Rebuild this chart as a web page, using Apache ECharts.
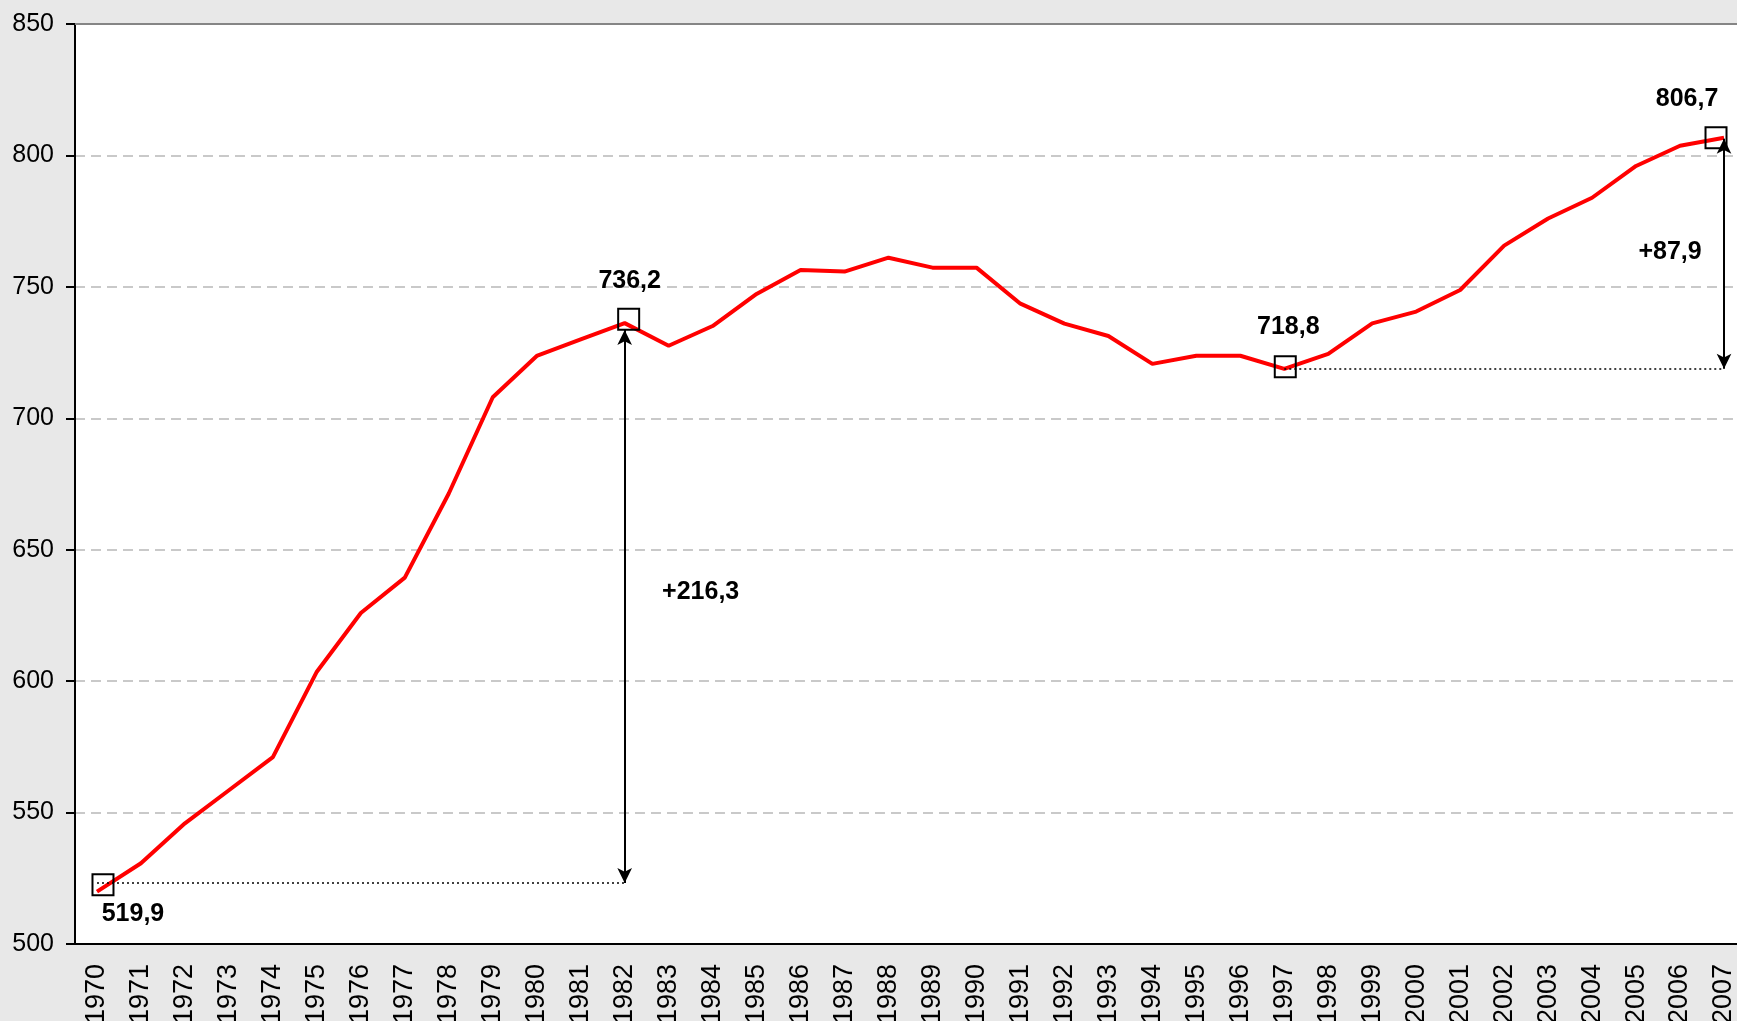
<!DOCTYPE html>
<html>
<head>
<meta charset="utf-8">
<script src="https://cdn.jsdelivr.net/npm/echarts@6/dist/echarts.min.js"></script>
<style>
  html, body { margin: 0; padding: 0; background: #e8e8e8; }
  #chart { width: 1737px; height: 1021px; }
</style>
</head>
<body>
<div id="chart"></div>
<script>
  // years on the x axis
  var years = ['1970', '1971', '1972', '1973', '1974', '1975', '1976', '1977', '1978', '1979',
    '1980', '1981', '1982', '1983', '1984', '1985', '1986', '1987', '1988', '1989',
    '1990', '1991', '1992', '1993', '1994', '1995', '1996', '1997', '1998', '1999',
    '2000', '2001', '2002', '2003', '2004', '2005', '2006', '2007'];

  // values
  var values = [519.9, 530.7, 545.9, 558.5, 571.1, 603.6, 625.9, 639.4, 671.4, 708.0,
    723.7, 730.0, 736.2, 727.6, 735.1, 747.3, 756.4, 755.8, 761.1, 757.3,
    757.3, 743.6, 736.0, 731.3, 720.7, 723.8, 723.8, 718.8, 724.5, 736.1,
    740.6, 748.8, 765.7, 776.0, 783.9, 796.0, 803.7, 806.7];

  // highlighted points
  var markYears = ['1970', '1982', '1997', '2007'];
  var markTexts = ['519,9', '736,2', '718,8', '806,7'];

  // differences: dotted guide from one year to another, then an arrow up
  var diffFrom = ['1970', '1997'];
  var diffTo = ['1982', '2007'];
  var diffBase = [523.2, 718.8];   // level of the dotted guide
  var diffTop = [733.6, 806.3];    // where the arrow tip stops
  var diffTexts = ['+216,3', '+87,9'];
  var diffTextYears = ['1983', '2006'];
  var diffTextValues = [633.9, 763.2];

  var yTicks = [500, 550, 600, 650, 700, 750, 800, 850];

  function valueOf(year) {
    return values[years.indexOf(year)];
  }

  var font = 'Liberation Sans, Arial, sans-serif';
  // squares sit a little off the line, like the original markers
  var markSymbolOffsets = [[6, -7], [4, -4], [1, -2], [-8, 0]];
  var markLabelOffsets = [[30, 29], [1, -38], [3, -40], [-29, -39]];
  var diffLabelOffsets = [[32, 0], [-10, 0]];

  var markData = markYears.map(function (y, i) {
    return {
      value: [y, valueOf(y)],
      symbolOffset: markSymbolOffsets[i],
      label: { formatter: markTexts[i], offset: markLabelOffsets[i] }
    };
  });

  var diffData = diffTexts.map(function (t, i) {
    return {
      value: [diffTextYears[i], diffTextValues[i]],
      label: { formatter: t, offset: diffLabelOffsets[i] }
    };
  });

  var guideLines = [];
  var arrowLines = [];
  diffFrom.forEach(function (from, i) {
    guideLines.push([{ coord: [from, diffBase[i]] }, { coord: [diffTo[i], diffBase[i]] }]);
    arrowLines.push([{ coord: [diffTo[i], diffBase[i]] }, { coord: [diffTo[i], diffTop[i]] }]);
  });

  var boldLabel = {
    show: true,
    position: 'inside',
    fontSize: 25,
    fontWeight: 'bold',
    color: '#000',
    textBorderWidth: 0,
    fontFamily: font
  };

  var chart = echarts.init(document.getElementById('chart'));
  chart.setOption({
    animation: false,
    backgroundColor: '#e8e8e8',
    textStyle: { fontFamily: font },
    grid: {
      left: 75,
      top: 24,
      width: 1671,
      height: 920,
      containLabel: false,
      outerBoundsMode: 'none',
      show: true,
      backgroundColor: '#ffffff',
      borderWidth: 0
    },
    xAxis: {
      type: 'category',
      data: years,
      axisLine: { lineStyle: { color: '#000', width: 2 } },
      axisTick: { length: 9, lineStyle: { color: '#000', width: 2 } },
      axisLabel: { rotate: 90, fontSize: 27, color: '#000', margin: 20, fontFamily: font },
      splitLine: { show: false }
    },
    yAxis: {
      type: 'value',
      min: yTicks[0],
      max: yTicks[yTicks.length - 1],
      interval: 50,
      axisLine: { show: true, lineStyle: { color: '#000', width: 2 } },
      axisTick: { show: true, length: 9, lineStyle: { color: '#000', width: 2 } },
      axisLabel: { fontSize: 25, color: '#000', margin: 21, fontFamily: font },
      splitLine: { lineStyle: { color: '#b8b8b8', width: 1.5, type: [10, 6] } }
    },
    series: [
      {
        name: 'main',
        type: 'line',
        data: values,
        symbol: 'none',
        lineStyle: { color: '#ff0000', width: 4 },
        z: 4,
        markLine: {
          silent: true,
          symbol: 'none',
          label: { show: false },
          lineStyle: { color: '#858585', width: 2, type: 'solid' },
          data: [{ yAxis: 850 }]
        }
      },
      {
        name: 'guides',
        type: 'line',
        data: [],
        markLine: {
          silent: true,
          symbol: 'none',
          label: { show: false },
          lineStyle: { color: '#000', width: 1.5, type: [2, 3] },
          data: guideLines
        }
      },
      {
        name: 'arrows',
        type: 'line',
        data: [],
        markLine: {
          silent: true,
          symbol: ['arrow', 'arrow'],
          symbolSize: [11, 15],
          label: { show: false },
          lineStyle: { color: '#000', width: 2, type: 'solid' },
          data: arrowLines
        }
      },
      {
        name: 'marks',
        type: 'scatter',
        data: markData,
        symbol: 'rect',
        symbolSize: 21,
        itemStyle: { color: 'rgba(0,0,0,0)', borderColor: '#000', borderWidth: 2, opacity: 1 },
        label: boldLabel,
        z: 5
      },
      {
        name: 'diffs',
        type: 'scatter',
        data: diffData,
        symbolSize: 0,
        itemStyle: { opacity: 1 },
        label: boldLabel,
        z: 5
      }
    ]
  });
</script>
</body>
</html>
